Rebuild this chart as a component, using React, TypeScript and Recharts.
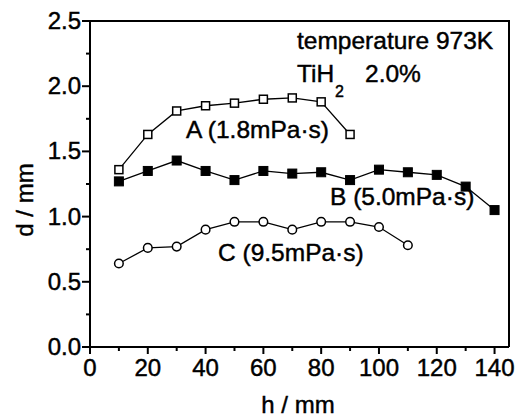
import React from "react";
import { LineChart, Line, XAxis, YAxis } from "recharts";

// h (mm) positions for each run
const hA = [10, 20, 30, 40, 50, 60, 70, 80, 90];
const hB = [10, 20, 30, 40, 50, 60, 70, 80, 90, 100, 110, 120, 130, 140];
const hC = [10, 20, 30, 40, 50, 60, 70, 80, 90, 100, 110];

// bubble diameter d (mm)
const dA = [1.36, 1.63, 1.81, 1.85, 1.87, 1.9, 1.91, 1.88, 1.63];
const dB = [1.27, 1.35, 1.43, 1.35, 1.28, 1.35, 1.33, 1.34, 1.28, 1.36, 1.34, 1.32, 1.23, 1.05];
const dC = [0.64, 0.76, 0.77, 0.9, 0.96, 0.96, 0.9, 0.96, 0.96, 0.92, 0.78];

const xTicks = [0, 10, 20, 30, 40, 50, 60, 70, 80, 90, 100, 110, 120, 130, 140];
const yTicks = [0, 0.25, 0.5, 0.75, 1, 1.25, 1.5, 1.75, 2, 2.25, 2.5];

const FONT = "'Liberation Sans', Arial, sans-serif";
const W = 517;
const H = 417;
const M = { top: 21, right: 8, bottom: 0, left: 0 };
const Y_AXIS_W = 90;
const X_AXIS_H = 70;

const toRows = (hs: number[], ds: number[]) => hs.map((h, i) => ({ h, d: ds[i] }));
const seriesA = toRows(hA, dA);
const seriesB = toRows(hB, dB);
const seriesC = toRows(hC, dC);

const bold = { stroke: "#000", strokeWidth: 0.45 };

const XTick = (props: any) => {
  const { x, y, payload } = props;
  const major = payload.value % 20 === 0;
  return (
    <g>
      <line x1={x} x2={x} y1={y} y2={y + (major ? 7 : 4)} stroke="#000" strokeWidth={2} />
      {major && (
        <text x={x} y={y + 29} textAnchor="middle" fontSize={24} fontFamily={FONT} fill="#000" {...bold}>
          {payload.value}
        </text>
      )}
    </g>
  );
};

const YTick = (props: any) => {
  const { x, y, payload } = props;
  const major = Math.round(payload.value * 100) % 50 === 0;
  return (
    <g>
      <line x1={x} x2={x - (major ? 8 : 4)} y1={y} y2={y} stroke="#000" strokeWidth={2} />
      {major && (
        <text x={x - 9} y={y + 8} textAnchor="end" fontSize={24} fontFamily={FONT} fill="#000" {...bold}>
          {payload.value.toFixed(1)}
        </text>
      )}
    </g>
  );
};

const openSquare = (p: any) => (
  <rect key={p.index} x={p.cx - 4} y={p.cy - 4} width={8} height={8} fill="#fff" stroke="#000" strokeWidth={1.5} />
);
const filledSquare = (p: any) => (
  <rect key={p.index} x={p.cx - 4.5} y={p.cy - 4.5} width={9} height={9} fill="#000" stroke="#000" strokeWidth={1} />
);
const openCircle = (p: any) => (
  <circle key={p.index} cx={p.cx} cy={p.cy} r={4.3} fill="#fff" stroke="#000" strokeWidth={1.5} />
);

export default function App() {
  const plotX = M.left + Y_AXIS_W;
  const plotY = M.top;
  const plotW = W - M.right - plotX;
  const plotH = H - M.bottom - X_AXIS_H - plotY;
  return (
    <div style={{ position: "absolute", left: 0, top: 0, width: W, height: H, background: "#fff" }}>
      <LineChart width={W} height={H} margin={M}>
        <XAxis
          dataKey="h"
          type="number"
          domain={[0, 145]}
          ticks={xTicks}
          interval={0}
          tickSize={0}
          tickMargin={0}
          tick={<XTick />}
          height={X_AXIS_H}
          axisLine={{ stroke: "#000", strokeWidth: 2 }}
          allowDuplicatedCategory={false}
        />
        <YAxis
          type="number"
          domain={[0, 2.5]}
          ticks={yTicks}
          interval={0}
          tickSize={0}
          tickMargin={0}
          tick={<YTick />}
          width={Y_AXIS_W}
          axisLine={{ stroke: "#000", strokeWidth: 2 }}
        />
        <Line data={seriesA} dataKey="d" stroke="#000" strokeWidth={1.3} dot={openSquare} isAnimationActive={false} />
        <Line data={seriesB} dataKey="d" stroke="#000" strokeWidth={1.3} dot={filledSquare} isAnimationActive={false} />
        <Line data={seriesC} dataKey="d" stroke="#000" strokeWidth={1.3} dot={openCircle} isAnimationActive={false} />
      </LineChart>
      <svg
        width={W}
        height={H}
        style={{ position: "absolute", left: 0, top: 0, pointerEvents: "none" }}
        fontFamily={FONT}
        fill="#000"
      >
        {/* top and right edges of the frame */}
        <polyline
          points={`${plotX},${plotY} ${plotX + plotW},${plotY} ${plotX + plotW},${plotY + plotH}`}
          fill="none"
          stroke="#000"
          strokeWidth={2}
        />
        <g {...bold} fontSize={24.5}>
          <text x={297} y={49}>temperature 973K</text>
          <text x={297} y={82}>TiH</text>
          <text x={335} y={97} fontSize={16}>2</text>
          <text x={365} y={82}>2.0%</text>
          <text x={186} y={138}>A (1.8mPa·s)</text>
          <text x={330} y={205}>B (5.0mPa·s)</text>
          <text x={218} y={261}>C (9.5mPa·s)</text>
          <text x={298} y={413} fontSize={24} textAnchor="middle">h / mm</text>
          <text x={33} y={200} fontSize={24} textAnchor="middle" transform="rotate(-90 33 200)">d / mm</text>
        </g>
      </svg>
    </div>
  );
}
